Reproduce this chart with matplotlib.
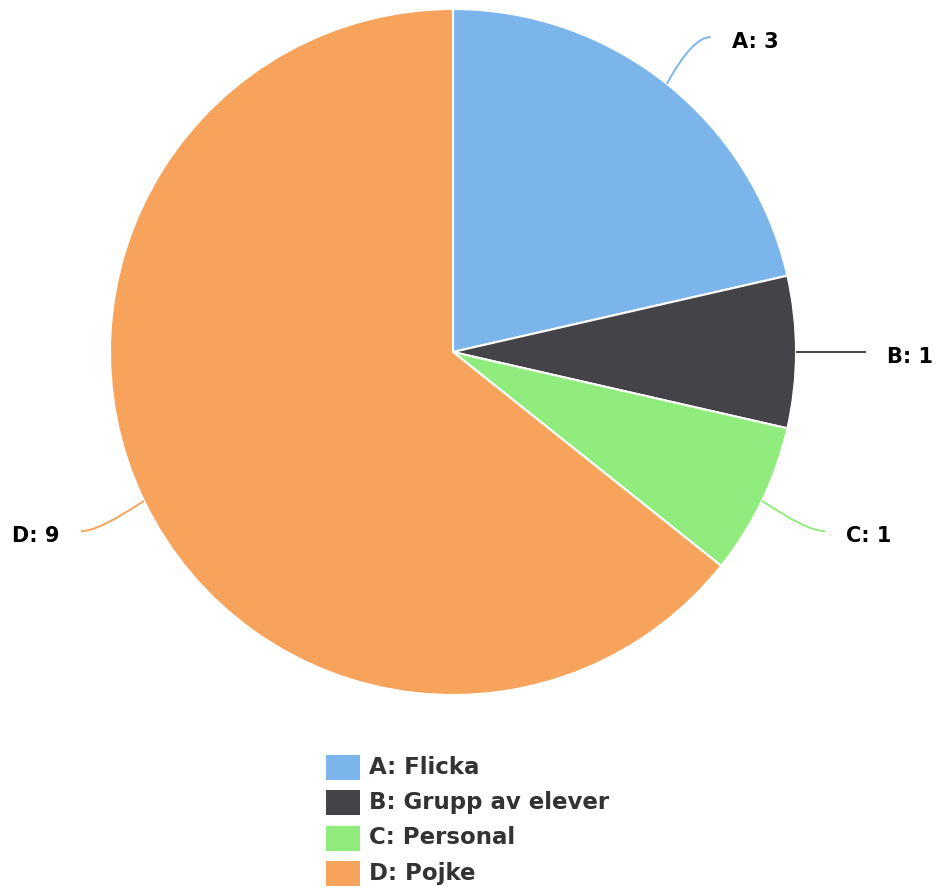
import numpy as np
import matplotlib
matplotlib.use("Agg")
import matplotlib.pyplot as plt
from matplotlib.patches import Rectangle
from matplotlib.path import Path
from matplotlib.patches import PathPatch

# ---- data ----
codes = ["A", "B", "C", "D"]
categories = ["Flicka", "Grupp av elever", "Personal", "Pojke"]
values = [3, 1, 1, 9]
colors = ["#7cb5ec", "#434348", "#90ed7d", "#f7a35c"]

W, H = 939, 893
fig = plt.figure(figsize=(W / 100, H / 100), dpi=100)
ax = fig.add_axes([0, 0, 1, 1])
ax.set_xlim(0, W)
ax.set_ylim(0, H)
ax.axis("off")

cx, cy_px, r = 453, 352, 343
cy = H - cy_px

wedges, _ = ax.pie(values, colors=colors, startangle=90, counterclock=False,
                   center=(cx, cy), radius=r, frame=True,
                   wedgeprops=dict(edgecolor="white", linewidth=1.5))
ax.set_xlim(0, W)
ax.set_ylim(0, H)
ax.set_aspect("equal")
ax.axis("off")

R = r + 70
top_limit = H - 37
for w, code, val, col in zip(wedges, codes, values, colors):
    ang = np.deg2rad((w.theta1 + w.theta2) / 2)
    sx, sy = cx + r * np.cos(ang), cy + r * np.sin(ang)
    ey0 = cy + R * np.sin(ang)
    side = 1 if np.cos(ang) >= -1e-9 else -1
    ex = cx + side * np.sqrt(max(R**2 - (ey0 - cy) ** 2, 0))
    ey = min(ey0, top_limit)
    # curved connector
    ctrl = (ex - side * 18, ey)
    path = Path([(sx, sy), ctrl, (ex, ey)],
                [Path.MOVETO, Path.CURVE3, Path.CURVE3])
    ax.add_patch(PathPatch(path, facecolor="none", edgecolor=col, lw=1.4))
    tx = ex + side * 21
    ax.text(tx, ey - 5, f"{code}: {val}", ha="left" if side > 0 else "right",
            va="center", fontsize=15, fontweight="bold", color="black")

# legend
lx, ly0, dy = 326, 767, 35.5
for i, (code, cat, col) in enumerate(zip(codes, categories, colors)):
    yc = H - (ly0 + i * dy)
    ax.add_patch(Rectangle((lx, yc - 12.5), 34, 25, facecolor=col, edgecolor="none"))
    ax.text(lx + 43, yc, f"{code}: {cat}", ha="left", va="center",
            fontsize=16.5, fontweight="bold", color="#333333")

fig.savefig("out.png", dpi=100)
